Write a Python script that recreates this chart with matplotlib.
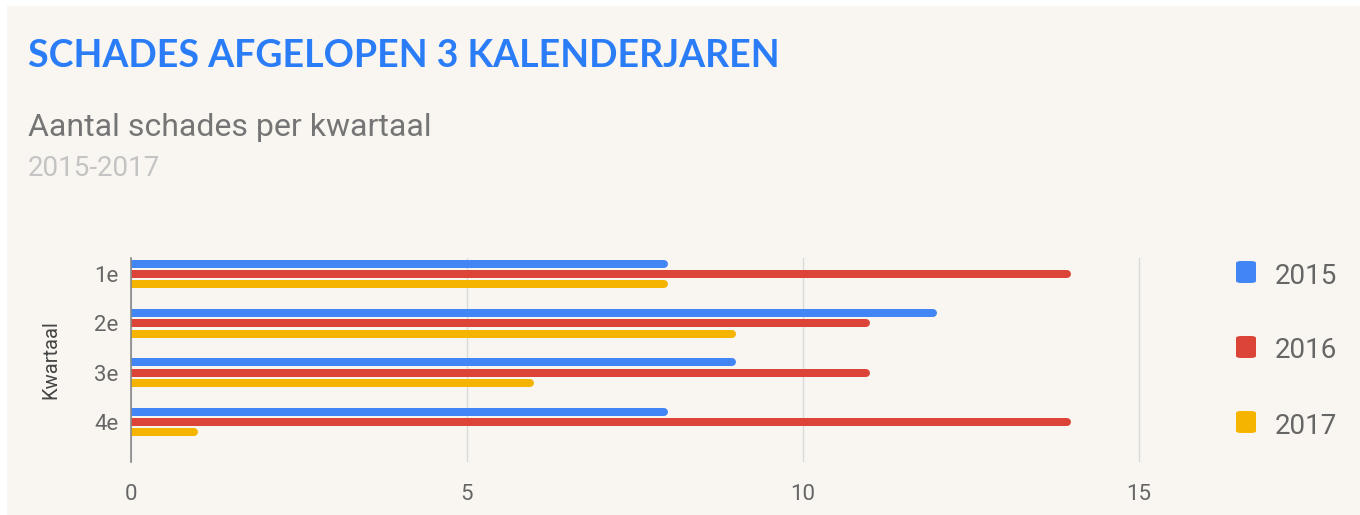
import matplotlib
matplotlib.use('Agg')
import matplotlib.pyplot as plt
from matplotlib.patches import FancyBboxPatch, Rectangle

# data
quarters = ['1e', '2e', '3e', '4e']
years = ['2015', '2016', '2017']
s2015 = [8, 12, 9, 8]
s2016 = [14, 11, 11, 14]
s2017 = [8, 9, 6, 1]
series = [s2015, s2016, s2017]
colors = ['#4285f4', '#db4437', '#f4b400']

bg = '#f9f6f1'
W, H = 1360, 515

fig = plt.figure(figsize=(W/100, H/100), dpi=100)
fig.patch.set_facecolor('white')
fig.add_artist(Rectangle((7/W, 0), 1, 1 - 6/H, transform=fig.transFigure,
                         facecolor=bg, edgecolor='none', zorder=-10))

ax = fig.add_axes([131/W, 53/H, (1152-131)/W, 204/H])
ax.set_facecolor(bg)
ax.set_xlim(0, 15.2)
ax.set_ylim(3.81, -0.324)

# bars drawn as round-capped lines
offsets = [-0.21, 0, 0.21]
lw_px = 8
cap = (lw_px/2) / (1021/15.2)
for vals, off, c in zip(series, offsets, colors):
    for i, v in enumerate(vals):
        ax.plot([0, v - cap], [i + off, i + off], color=c, lw=lw_px*0.72,
                solid_capstyle='round', zorder=3)

ax.set_xticks([0, 5, 10, 15])
ax.set_yticks(range(len(quarters)))
ax.set_yticklabels(quarters)
ax.grid(axis='x', color='#d9d9d9', lw=1)
ax.set_axisbelow(True)
for s in ['top', 'right', 'bottom']:
    ax.spines[s].set_visible(False)
ax.spines['left'].set_color('#888888')
ax.spines['left'].set_linewidth(1.2)
ax.spines['left'].set_zorder(4)
ax.tick_params(length=0, labelsize=16, labelcolor='#666666')
ax.tick_params(axis='x', pad=16)
ax.tick_params(axis='y', pad=9)
for t in ax.get_xticklabels() + ax.get_yticklabels():
    t.set_fontfamily('Roboto')
ax.set_ylabel('Kwartaal', fontsize=14.5, color='#444444', family='Roboto', labelpad=24)

# titles
fig.text(28/W, 1 - 56/H, 'SCHADES AFGELOPEN 3 KALENDERJAREN', color='#2a7cf7',
         fontsize=27, fontweight='bold', family=['Lato', 'DejaVu Sans'],
         va='center', ha='left')
fig.text(28/W, 1 - 127/H, 'Aantal schades per kwartaal', color='#757575',
         fontsize=23, family='Roboto', va='center', ha='left')
fig.text(28/W, 1 - 168/H, '2015-2017', color='#c4c4c4',
         fontsize=20, family='Roboto', va='center', ha='left')

# legend
for k, (y, c) in enumerate(zip(years, colors)):
    cy = 272 + k*75
    fig.add_artist(FancyBboxPatch(((1236)/W, 1 - (cy + 11)/H), 20/W, 22/H,
                                  boxstyle='round,pad=0,rounding_size=0.004',
                                  transform=fig.transFigure, facecolor=c, edgecolor='none'))
    fig.text(1275/W, 1 - (cy + 4)/H, y, color='#666666', fontsize=20,
             family='Roboto', va='center', ha='left')

plt.savefig('out.png', dpi=100, facecolor=fig.get_facecolor())
